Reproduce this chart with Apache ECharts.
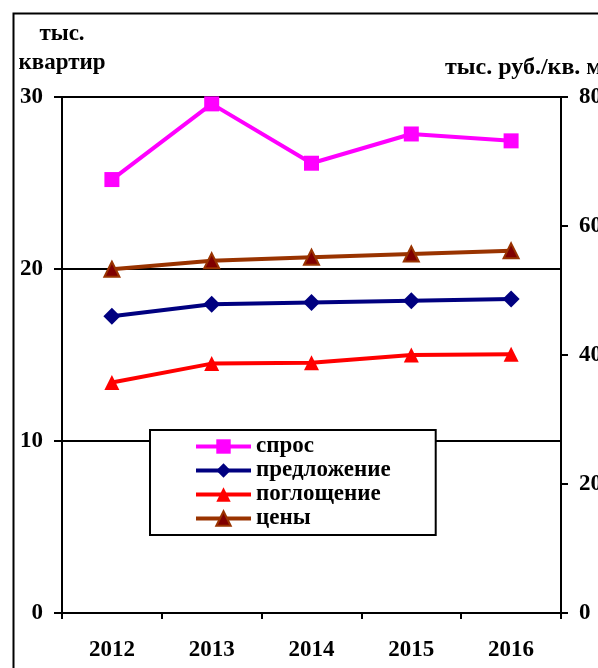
<!DOCTYPE html>
<html>
<head>
<meta charset="utf-8">
<script src="https://cdn.jsdelivr.net/npm/echarts@6/dist/echarts.min.js"></script>
<style>
html,body{margin:0;padding:0;background:#fff;}
#c{width:598px;height:668px;}
</style>
</head>
<body>
<div id="c"></div>
<script>
const years = ['2012','2013','2014','2015','2016'];
const demand = [25.2, 29.6, 26.15, 27.85, 27.45];
const supply = [17.25, 17.95, 18.05, 18.15, 18.25];
const absorption = [13.4, 14.5, 14.55, 15.0, 15.05];
const prices = [53.3, 54.6, 55.15, 55.65, 56.15];
const leftTicks = [0, 10, 20, 30];
const rightTicks = [0, 20, 40, 60, 80];

const FONT = 'Liberation Serif';
const lbl = {color:'#000', fontFamily:FONT, fontWeight:'bold', fontSize:23};

const chart = echarts.init(document.getElementById('c'), null, {renderer:'canvas'});
chart.setOption({
  backgroundColor:'#fff',
  animation:false,
  graphic:[
    {type:'rect', left:11, top:11, shape:{width:700, height:700}, style:{fill:'none', stroke:'#000', lineWidth:2}, z:0, silent:true},
    {type:'text', left:445, top:56, style:{text:'тыс. руб./кв. м', fill:'#000', font:'bold 24px "Liberation Serif"'}, z:5}
  ],
  grid:{left:62, right:37, top:97, bottom:55, containLabel:false, outerBoundsMode:'none'},
  xAxis:{
    type:'category', data:years, boundaryGap:true,
    axisLine:{lineStyle:{color:'#000', width:2}},
    axisTick:{show:true, length:6, lineStyle:{color:'#000', width:2}},
    axisLabel:Object.assign({margin:26}, lbl)
  },
  yAxis:[
    {
      type:'value', min:leftTicks[0], max:leftTicks[leftTicks.length-1], interval:10,
      name:'тыс.\nквартир', nameLocation:'end', nameGap:19,
      nameTextStyle:Object.assign({align:'center', lineHeight:29}, lbl),
      axisLine:{show:true, lineStyle:{color:'#000', width:2}},
      axisTick:{show:true, length:8, lineStyle:{color:'#000', width:2}},
      axisLabel:Object.assign({margin:19}, lbl),
      splitLine:{show:true, lineStyle:{color:'#000', width:2}}
    },
    {
      type:'value', min:rightTicks[0], max:rightTicks[rightTicks.length-1], interval:20, position:'right',
      axisLine:{show:true, lineStyle:{color:'#000', width:2}},
      axisTick:{show:true, length:7, lineStyle:{color:'#000', width:2}},
      axisLabel:Object.assign({margin:18}, lbl),
      splitLine:{show:false}
    }
  ],
  legend:{
    orient:'vertical', left:150, top:430,
    padding:[5, 45, 5, 44],
    itemWidth:55, itemHeight:18, itemGap:1,
    borderColor:'#000', borderWidth:2, backgroundColor:'#fff',
    lineStyle:{width:4},
    textStyle:lbl,
    data:['спрос','предложение','поглощение','цены']
  },
  series:[
    {name:'спрос', type:'line', data:demand, yAxisIndex:0,
     symbol:'rect', symbolSize:15,
     lineStyle:{color:'#ff00ff', width:4}, itemStyle:{color:'#ff00ff'}},
    {name:'предложение', type:'line', data:supply, yAxisIndex:0,
     symbol:'diamond', symbolSize:[17,17],
     lineStyle:{color:'#000080', width:4}, itemStyle:{color:'#000080'}},
    {name:'поглощение', type:'line', data:absorption, yAxisIndex:0,
     symbol:'triangle', symbolSize:15,
     lineStyle:{color:'#ff0000', width:4}, itemStyle:{color:'#ff0000'}},
    {name:'цены', type:'line', data:prices, yAxisIndex:1,
     symbol:'triangle', symbolSize:15,
     lineStyle:{color:'#993300', width:4}, itemStyle:{color:'#800000', borderColor:'#993300', borderWidth:2}}
  ]
});
</script>
</body>
</html>
